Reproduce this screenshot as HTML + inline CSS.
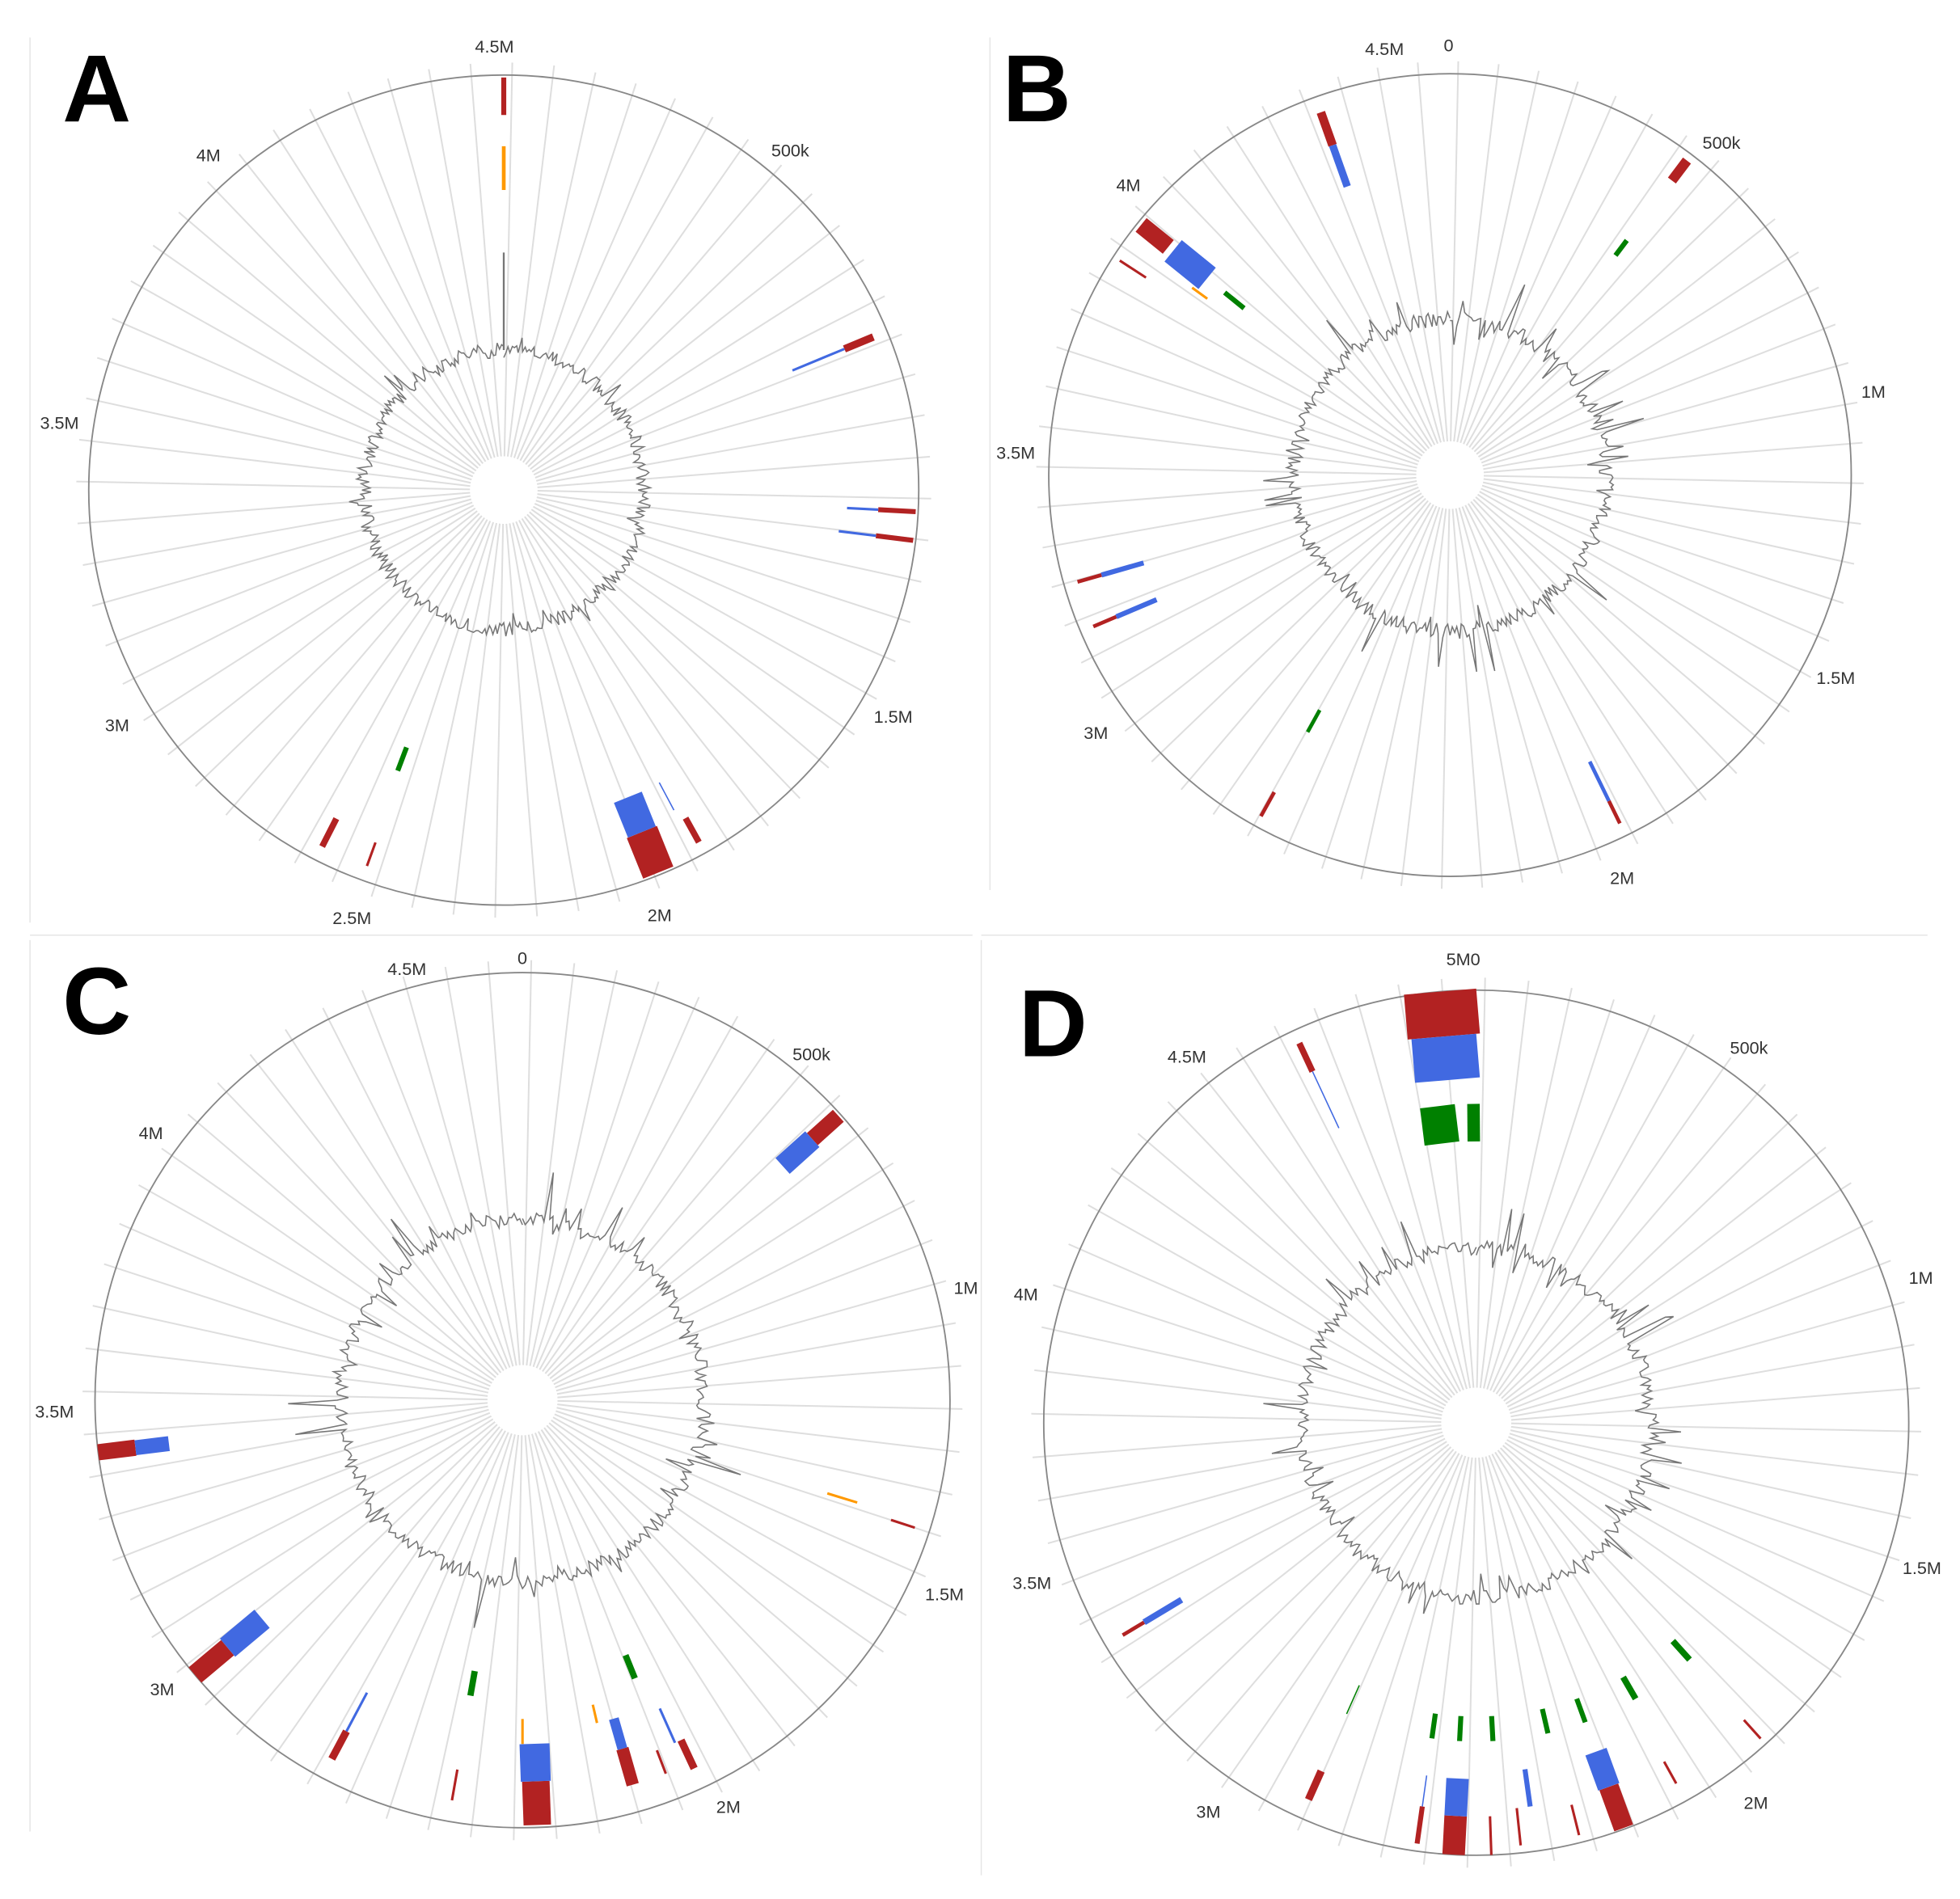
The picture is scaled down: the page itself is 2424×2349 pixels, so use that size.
<!DOCTYPE html>
<html><head><meta charset="utf-8"><style>
html,body{margin:0;padding:0;background:#fff}
svg{display:block}
text{font-family:"Liberation Sans",sans-serif}
</style></head><body>
<svg id="s" width="2424" height="2349" viewBox="0 0 1568 1519" preserveAspectRatio="none" xmlns="http://www.w3.org/2000/svg">
<rect width="1568" height="1519" fill="#fff"/>
<g stroke="#e6e6e6" stroke-width="1">
<line x1="24" y1="30" x2="24" y2="738"/><line x1="792" y1="30" x2="792" y2="712"/>
<line x1="24" y1="748" x2="778" y2="748"/><line x1="785" y1="748" x2="1542" y2="748"/>
<line x1="24" y1="752" x2="24" y2="1465"/><line x1="785" y1="752" x2="785" y2="1500"/>
</g>
<g id="g"></g>
<g font-size="14" fill="#333">
<text x="380" y="42">4.5M</text><text x="617" y="125">500k</text><text x="157" y="129">4M</text>
<text x="32" y="343">3.5M</text><text x="84" y="585">3M</text><text x="699" y="578">1.5M</text>
<text x="266" y="739">2.5M</text><text x="518" y="737">2M</text>
<text x="1092" y="44">4.5M</text><text x="1155" y="41">0</text><text x="1362" y="119">500k</text>
<text x="893" y="153">4M</text><text x="1489" y="318">1M</text><text x="797" y="367">3.5M</text>
<text x="1453" y="547">1.5M</text><text x="867" y="591">3M</text><text x="1288" y="707">2M</text>
<text x="310" y="780">4.5M</text><text x="414" y="771">0</text><text x="634" y="848">500k</text>
<text x="111" y="911">4M</text><text x="763" y="1035">1M</text><text x="28" y="1134">3.5M</text>
<text x="740" y="1280">1.5M</text><text x="120" y="1356">3M</text><text x="573" y="1450">2M</text>
<text x="1157" y="772">5M0</text><text x="1384" y="843">500k</text><text x="934" y="850">4.5M</text>
<text x="811" y="1040">4M</text><text x="1527" y="1027">1M</text><text x="810" y="1271">3.5M</text>
<text x="1522" y="1259">1.5M</text><text x="957" y="1454">3M</text><text x="1395" y="1447">2M</text>
</g>
<g font-size="76" font-weight="bold" fill="#000">
<text x="50" y="97">A</text><text x="802" y="97">B</text><text x="50" y="827">C</text><text x="815" y="845">D</text>
</g>
</svg>
<script>
var NS="http://www.w3.org/2000/svg",G=document.getElementById('g');
function el(n,a){var e=document.createElementNS(NS,n);for(var k in a)e.setAttribute(k,a[k]);G.appendChild(e);return e;}
var seed=7;function rnd(){seed=(seed*16807)%2147483647;return seed/2147483647;}
var R='#b22222',B='#4169e1',Gr='#008000',O='#ff9900';
var P=[
{c:[403,392],R:332,ri:112,h:27,sp:25,f:[[0,300,330,4,R],[0,240,275,3,O],[67.5,295,320,6,R],[67.5,250,295,2,B],[93,300,330,4,R],[93,275,300,2,B],[97,300,330,4,R],[97,270,300,2,B],[158,295,330,26,R],[158,265,295,24,B],[151,300,322,5,R],[152,265,290,1,B],[200.7,220,240,4,Gr],[207,295,320,5,R],[200,300,320,2,R]],spike:[0,190]},
{c:[1160,380],R:321,ri:125,h:27,sp:60,f:[[340.4,280,308,7,R],[340.4,245,280,6,B],[37,295,315,8,R],[37,220,235,4,Gr],[309,290,318,14,R],[309,250,285,22,B],[306,240,255,2,O],[309,212,232,4,Gr],[303,290,315,2,R],[254,290,310,3,R],[254,255,290,4,B],[247,290,310,3,R],[247,255,290,4,B],[209,215,235,3,Gr],[209,290,312,3,R],[154,290,310,3,R],[154,255,290,3,B]]},
{c:[418,1120],R:342,ri:145,h:28,sp:60,f:[[48,312,340,13,R],[48,280,312,17,B],[263,312,342,13,R],[263,285,312,12,B],[107,255,280,2,O],[108,310,330,2,R],[230,308,342,16,R],[230,272,308,19,B],[208,300,325,6,R],[208,265,300,2,B],[190,300,325,2,R],[190,220,240,5,Gr],[178,305,340,22,R],[178,275,305,24,B],[180,255,275,2,O],[164,290,320,10,R],[164,265,290,8,B],[167,250,265,2,O],[158,220,240,5,Gr],[155,300,325,6,R],[156,270,300,2,B],[159,300,320,2,R]]},
{c:[1181,1138],R:346,ri:140,h:28,sp:60,f:[[-4.8,310,346,58,R],[-4.8,275,310,52,B],[-7,225,255,28,Gr],[-0.5,225,255,10,Gr],[335,310,335,5,R],[335,260,310,1,B],[239,310,330,3,R],[239,275,310,5,B],[138,235,255,5,Gr],[150,235,255,5,Gr],[160,235,255,4,Gr],[167,235,255,4,Gr],[177,235,255,4,Gr],[183,235,255,4,Gr],[188,235,255,4,Gr],[204,230,255,1,Gr],[138,320,340,2,R],[151,310,330,2,R],[160,310,345,16,R],[160,280,310,18,B],[166,315,340,2,R],[174,310,340,2,R],[172,280,310,4,B],[183,315,346,18,R],[183,285,315,18,B],[178,315,346,2,R],[188,310,340,4,R],[188,285,310,1,B],[204,305,330,6,R]]}
];
P.forEach(function(p,pi){
 var cx=p.c[0],cy=p.c[1],N=64;
 for(var i=0;i<N;i++){var a=(i/N)*2*Math.PI+0.02,s=Math.sin(a),c=-Math.cos(a);
  el('line',{x1:cx+s*p.h,y1:cy+c*p.h,x2:cx+s*(p.R+10),y2:cy+c*(p.R+10),stroke:'#dedede','stroke-width':1.3});}
 el('circle',{cx:cx,cy:cy,r:p.R,fill:'none',stroke:'#888','stroke-width':1.2});
 el('circle',{cx:cx,cy:cy,r:p.h,fill:'#fff'});
 p.f.forEach(function(f){var a=f[0]*Math.PI/180,s=Math.sin(a),c=-Math.cos(a);
  el('line',{x1:cx+s*f[1],y1:cy+c*f[1],x2:cx+s*f[2],y2:cy+c*f[2],stroke:f[4],'stroke-width':f[3]});});
 var d='',M=420;
 for(var j=0;j<=M;j++){var a=j/M*2*Math.PI,s=Math.sin(a),c=-Math.cos(a),v=(rnd()-0.5)*12;
  if(rnd()<(pi==0?0.06:0.1))v+=(rnd()-0.35)*p.sp;
  var r=p.ri+v;d+=(j?'L':'M')+(cx+s*r).toFixed(1)+' '+(cy+c*r).toFixed(1);}
 el('path',{d:d,fill:'none',stroke:'#777','stroke-width':1});
 if(p.spike)el('line',{x1:cx,y1:cy-p.ri,x2:cx,y2:cy-p.spike[1],stroke:'#777','stroke-width':1.5});
});
</script>
</body></html>
